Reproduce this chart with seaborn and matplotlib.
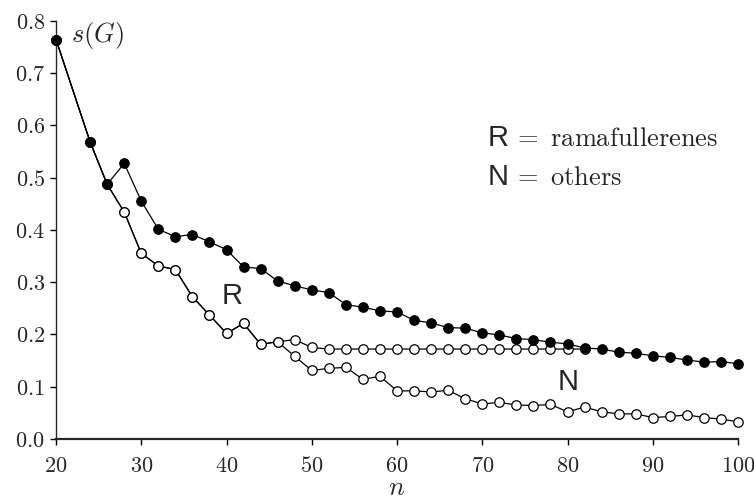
import matplotlib
matplotlib.use('Agg')
import matplotlib.pyplot as plt
import seaborn as sns
import pandas as pd

# fullerene sizes (no n = 22)
n_all = [20, 24, 26, 28, 30, 32, 34, 36, 38, 40, 42, 44, 46, 48, 50, 52, 54, 56, 58, 60,
         62, 64, 66, 68, 70, 72, 74, 76, 78, 80, 82, 84, 86, 88, 90, 92, 94, 96, 98, 100]
s_all = [0.764, 0.568, 0.487, 0.527, 0.455, 0.401, 0.387, 0.391, 0.377, 0.362,
         0.329, 0.326, 0.302, 0.293, 0.285, 0.280, 0.257, 0.252, 0.245, 0.243,
         0.227, 0.222, 0.213, 0.212, 0.203, 0.199, 0.192, 0.190, 0.185, 0.182,
         0.174, 0.172, 0.166, 0.164, 0.159, 0.156, 0.151, 0.147, 0.148, 0.144]

# open circles, common part before the split
n_shared = [20, 24, 26, 28, 30, 32, 34, 36, 38, 40, 42, 44, 46]
s_shared = [0.764, 0.568, 0.487, 0.434, 0.355, 0.331, 0.324, 0.272, 0.237, 0.202,
            0.221, 0.181, 0.186]

# ramafullerenes branch
n_rama = [48, 50, 52, 54, 56, 58, 60, 62, 64, 66, 68, 70, 72, 74, 76, 78, 80, 82]
s_rama = [0.190, 0.175, 0.172, 0.172, 0.172, 0.172, 0.172, 0.172, 0.172, 0.172,
          0.172, 0.172, 0.172, 0.172, 0.172, 0.172, 0.172, 0.172]

# others branch
n_other = [48, 50, 52, 54, 56, 58, 60, 62, 64, 66, 68, 70, 72, 74, 76, 78, 80, 82,
           84, 86, 88, 90, 92, 94, 96, 98, 100]
s_other = [0.158, 0.131, 0.135, 0.137, 0.114, 0.120, 0.092, 0.092, 0.090, 0.093,
           0.077, 0.067, 0.070, 0.065, 0.064, 0.066, 0.052, 0.061, 0.052, 0.048,
           0.048, 0.041, 0.043, 0.046, 0.041, 0.038, 0.033]

x_ticks = [20, 30, 40, 50, 60, 70, 80, 90, 100]
y_ticks = [0.0, 0.1, 0.2, 0.3, 0.4, 0.5, 0.6, 0.7, 0.8]


def main():
    sns.set_style('ticks')
    plt.rcParams['mathtext.fontset'] = 'cm'
    plt.rcParams['font.family'] = ['Liberation Sans', 'DejaVu Sans']

    df_all = pd.DataFrame({'n': n_all, 's': s_all})
    df_rama = pd.DataFrame({'n': n_shared + n_rama, 's': s_shared + s_rama})
    df_other = pd.DataFrame({'n': n_shared + n_other, 's': s_shared + s_other})

    fig = plt.figure(figsize=(7.54, 5.01), dpi=100)
    ax = fig.add_axes([0.0743, 0.1238, 0.9045, 0.8349])

    line_kw = dict(color='black', linewidth=0.9, markersize=6.8,
                   markeredgecolor='black', markeredgewidth=0.9, clip_on=False)
    for df in (df_other, df_rama):
        sns.lineplot(data=df, x='n', y='s', marker='o', markerfacecolor='white',
                     ax=ax, zorder=2, **line_kw)
    sns.lineplot(data=df_all, x='n', y='s', marker='o', markerfacecolor='black',
                 ax=ax, zorder=3, **line_kw)

    ax.set_xlim(20, 100)
    ax.set_ylim(0, 0.8)
    ax.set_xticks(x_ticks)
    ax.set_xticklabels([f'${v}$' for v in x_ticks], fontsize=16)
    ax.set_yticks(y_ticks)
    ax.set_yticklabels([f'${v:.1f}$' for v in y_ticks], fontsize=16)
    ax.tick_params(axis='both', direction='out', length=4, width=1, color='black')
    ax.tick_params(axis='x', pad=8)
    ax.tick_params(axis='y', pad=4)

    sns.despine(ax=ax)
    ax.spines['left'].set_linewidth(1.0)
    ax.spines['bottom'].set_linewidth(1.6)

    ax.set_xlabel('$n$', fontsize=19, va='baseline')
    ax.xaxis.set_label_coords(0.5, -0.1335)
    ax.set_ylabel('')

    ax.text(21.8, 0.760, '$s(G)$', fontsize=19, ha='left', va='baseline')
    ax.text(40.6, 0.258, 'R', fontsize=21, ha='center', va='baseline')
    ax.text(80.1, 0.093, 'N', fontsize=21, ha='center', va='baseline')

    ax.text(70.6, 0.560, 'R', fontsize=21, ha='left', va='baseline')
    ax.text(73.6, 0.560, r'$=\ \mathrm{ramafullerenes}$', fontsize=19,
            ha='left', va='baseline')
    ax.text(70.6, 0.486, 'N', fontsize=21, ha='left', va='baseline')
    ax.text(73.6, 0.486, r'$=\ \mathrm{others}$', fontsize=19,
            ha='left', va='baseline')

    fig.savefig('out.png', dpi=100)


if __name__ == '__main__':
    main()
